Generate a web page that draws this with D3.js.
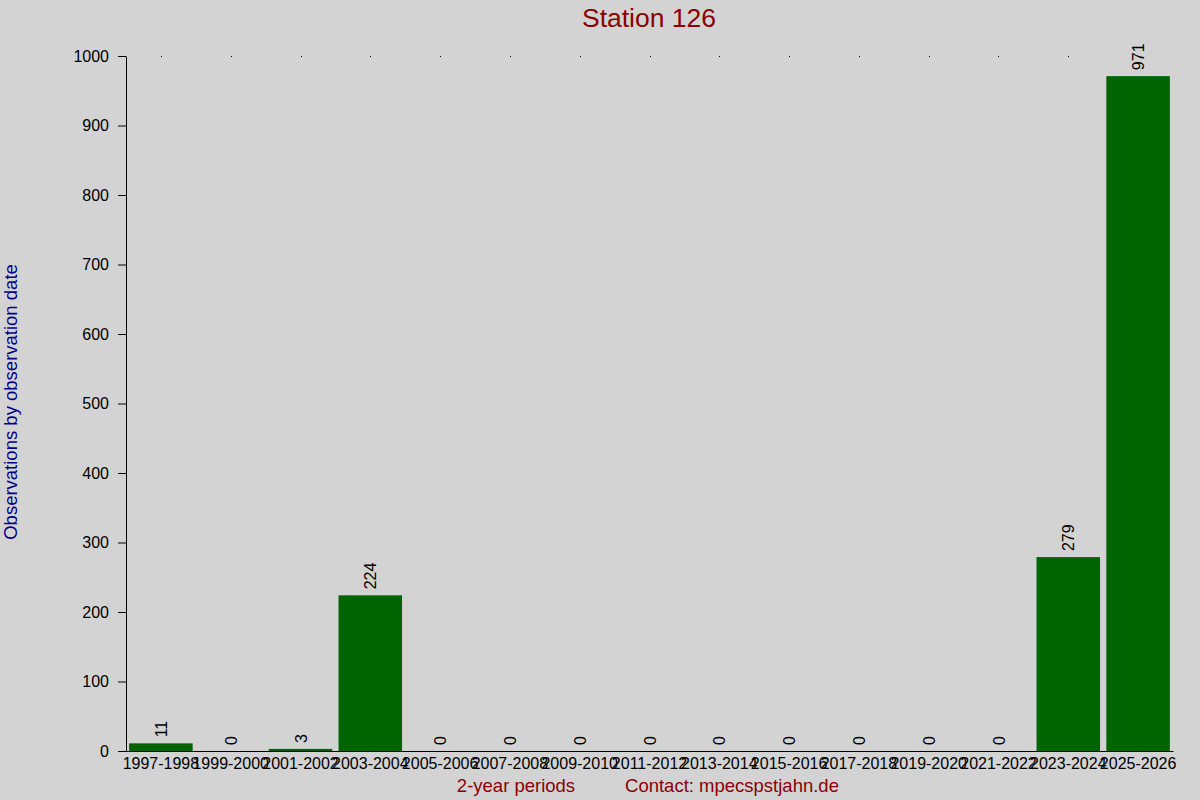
<!DOCTYPE html>
<html>
<head>
<meta charset="utf-8">
<script src="https://cdn.jsdelivr.net/npm/d3@7"></script>
<style>
  body { margin: 0; background: #d3d3d3; }
  svg { display: block; font-family: 'Liberation Sans', Arial, sans-serif; }
</style>
</head>
<body>
<div id="chart"></div>
<script>
'use strict';

const periods = ['1997-1998', '1999-2000', '2001-2002', '2003-2004', '2005-2006',
  '2007-2008', '2009-2010', '2011-2012', '2013-2014', '2015-2016', '2017-2018',
  '2019-2020', '2021-2022', '2023-2024', '2025-2026'];
const counts = [11, 0, 3, 224, 0, 0, 0, 0, 0, 0, 0, 0, 0, 279, 971];
const yTicks = [0, 100, 200, 300, 400, 500, 600, 700, 800, 900, 1000];

const title = 'Station 126';
const legendY = 'Observations by observation date';
const legendX = '2-year periods';
const contact = 'Contact: mpecspstjahn.de';

const initColumnChart = (element) => {
  const W = 1200;
  const H = 800;
  const left = 126;
  const right = 1173;
  const top = 56;
  const bottom = 751;
  const font = 'Liberation Sans, Arial, sans-serif';

  const svg = d3
    .select(element)
    .append('svg')
    .attr('width', W)
    .attr('height', H);

  svg.append('rect')
    .attr('width', W)
    .attr('height', H)
    .attr('fill', '#d3d3d3');

  const xScale = d3
    .scaleBand()
    .range([left, right])
    .domain(periods)
    .paddingInner(0.09)
    .paddingOuter(0.045);

  const yScale = d3
    .scaleLinear()
    .range([bottom, top])
    .domain([0, 1000]);

  // small dots along the top of each period
  svg.append('g')
    .selectAll('rect')
    .data(periods)
    .enter()
    .append('rect')
    .attr('x', p => Math.round(xScale(p) + xScale.bandwidth() / 2))
    .attr('y', yScale(1000))
    .attr('width', 1)
    .attr('height', 1)
    .attr('fill', '#000');

  const barGroups = svg
    .append('g')
    .selectAll('g')
    .data(periods.map((p, i) => ({ label: p, value: counts[i] })))
    .enter()
    .append('g');

  barGroups
    .append('rect')
    .attr('x', d => xScale(d.label))
    .attr('y', d => yScale(d.value))
    .attr('width', xScale.bandwidth())
    .attr('height', d => bottom - yScale(d.value))
    .attr('fill', '#006400');

  barGroups
    .append('text')
    .attr('transform', d => {
      const cx = xScale(d.label) + xScale.bandwidth() / 2 + 6;
      return `translate(${cx}, ${yScale(d.value) - 6}) rotate(-90)`;
    })
    .attr('text-anchor', 'start')
    .attr('font-size', 16)
    .attr('fill', '#000')
    .text(d => d.value);

  // y axis
  const yAxis = svg.append('g')
    .attr('transform', `translate(${left}, 0)`)
    .call(d3.axisLeft(yScale).tickValues(yTicks).tickFormat(d3.format('d'))
      .tickSize(8).tickPadding(9).tickSizeOuter(0));
  yAxis.attr('font-size', 16).attr('font-family', font);
  yAxis.select('.domain').attr('stroke', '#000');
  yAxis.selectAll('text').attr('fill', '#000');
  yAxis.selectAll('line').attr('stroke', '#000');

  // x axis
  const xAxis = svg.append('g')
    .attr('transform', `translate(0, ${bottom})`)
    .call(d3.axisBottom(xScale).tickSize(0).tickPadding(7).tickSizeOuter(0));
  xAxis.attr('font-size', 16).attr('font-family', font);
  xAxis.select('.domain').attr('stroke', '#000');
  xAxis.selectAll('text').attr('fill', '#000');

  svg.append('text')
    .attr('x', 649)
    .attr('y', 27)
    .attr('text-anchor', 'middle')
    .attr('font-size', 26.5)
    .attr('fill', '#8b0000')
    .text(title);

  svg.append('text')
    .attr('transform', `translate(17, ${402}) rotate(-90)`)
    .attr('text-anchor', 'middle')
    .attr('font-size', 18.5)
    .attr('fill', '#00008b')
    .text(legendY);

  svg.append('text')
    .attr('x', 516)
    .attr('y', 792)
    .attr('text-anchor', 'middle')
    .attr('font-size', 18.5)
    .attr('fill', '#8b0000')
    .text(legendX);

  svg.append('text')
    .attr('x', 732)
    .attr('y', 792)
    .attr('text-anchor', 'middle')
    .attr('font-size', 18.5)
    .attr('fill', '#8b0000')
    .text(contact);
};

initColumnChart(document.getElementById('chart'));
</script>
</body>
</html>
